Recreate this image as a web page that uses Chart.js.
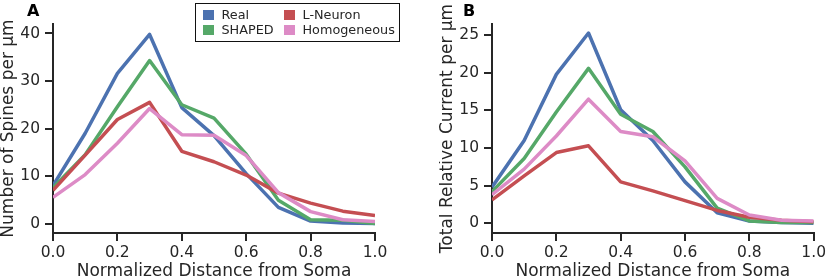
<!DOCTYPE html>
<html>
<head>
<meta charset="utf-8">
<script src="https://cdn.jsdelivr.net/npm/chart.js@4.4.0/dist/chart.umd.min.js"></script>
<style>
  body { margin: 0; background: #fff; width: 829px; height: 279px; overflow: hidden; position: relative; font-family: "DejaVu Sans"; }
  canvas { position: absolute; top: 0; }
  #chartA { left: 0; }
  #chartB { left: 439px; }
  .panel { position: absolute; top: 3px; font-size: 16px; line-height: 16px; font-weight: bold; color: #000; }
  #legendA {
    position: absolute; left: 195px; top: 3px; width: 205px; height: 39px;
    border: 1.5px solid #111; background: #fff; box-sizing: border-box;
    display: grid; grid-template-rows: 15px 15px; grid-auto-flow: column;
    grid-template-columns: 81px auto; padding: 3px 0 0 6.5px;
    font-size: 12.8px; line-height: 15px; color: #262626;
  }
  .item { display: flex; align-items: center; white-space: nowrap; }
  .patch { width: 11px; height: 10px; margin-right: 8px; flex: none; }
</style>
</head>
<body>
<canvas id="chartA" width="439" height="279"></canvas>
<canvas id="chartB" width="390" height="279"></canvas>
<div class="panel" style="left:27px">A</div>
<div class="panel" style="left:463px">B</div>
<div id="legendA"></div>
<script>
// Spines and current density along the dendrite
// Librerias: Chart.js

const distance = [0.0, 0.1, 0.2, 0.3, 0.4, 0.5, 0.6, 0.7, 0.8, 0.9, 1.0];
const xTicks = [0.0, 0.2, 0.4, 0.6, 0.8, 1.0];

// Panel A - Number of spines per um
const spinesReal = [8.0, 19.0, 31.6, 39.8, 24.4, 18.5, 10.5, 3.4, 0.5, 0.1, 0.0];
const spinesShaped = [7.5, 14.5, 24.6, 34.3, 25.0, 22.2, 14.6, 4.9, 0.8, 0.7, 0.0];
const spinesLNeuron = [7.0, 14.4, 21.9, 25.5, 15.2, 13.0, 10.2, 6.4, 4.3, 2.6, 1.7];
const spinesHomog = [5.5, 10.3, 16.9, 24.2, 18.7, 18.6, 14.3, 6.5, 2.5, 0.8, 0.4];
const yTicksA = [0, 10, 20, 30, 40];

// Panel B - Total relative current per um
const currentReal = [4.8, 11.0, 19.8, 25.3, 15.1, 11.0, 5.5, 1.4, 0.3, 0.1, 0.0];
const currentShaped = [4.2, 8.6, 14.8, 20.6, 14.5, 12.2, 7.5, 2.0, 0.3, 0.1, 0.1];
const currentLNeuron = [3.1, 6.3, 9.4, 10.3, 5.5, 4.3, 3.0, 1.7, 0.8, 0.4, 0.2];
const currentHomog = [3.8, 7.2, 11.6, 16.5, 12.2, 11.5, 8.3, 3.3, 1.1, 0.4, 0.3];
const yTicksB = [0, 5, 10, 15, 20, 25];

const seriesNames = ['Real', 'SHAPED', 'L-Neuron', 'Homogeneous'];
const seriesColors = ['#4c72b0', '#55a868', '#c44e52', '#dd8bc6'];

const axisColor = '#262626';
Chart.defaults.font.family = 'DejaVu Sans';
Chart.defaults.color = axisColor;

function toPoints(values){
  return distance.map((x, i) => ({x: x, y: values[i]}));
}

function makeDatasets(listSeries){
  let datasets = [];
  for (let i = 0; i < listSeries.length; i++) {
    datasets.push({
      label: seriesNames[i],
      data: toPoints(listSeries[i]),
      borderColor: seriesColors[i],
      backgroundColor: seriesColors[i],
      borderWidth: 3.5,
      pointRadius: 0,
      tension: 0,
      borderJoinStyle: 'round',
      order: listSeries.length - i   // last series on top, like matplotlib
    });
  }
  return datasets;
}

function makeOptions(yTitle, yMin, yMax, yTicks, rightPad){
  return {
    responsive: false,
    animation: false,
    devicePixelRatio: 1,
    layout: { padding: { left: 0, right: rightPad, top: 24, bottom: 0 } },
    plugins: { legend: { display: false }, tooltip: { enabled: false } },
    scales: {
      x: {
        type: 'linear', min: 0, max: 1,
        afterBuildTicks: (s) => { s.ticks = xTicks.map(v => ({value: v})); },
        afterFit: (s) => { s.height = 46; },
        ticks: { font: { size: 15.5 }, padding: 3, maxRotation: 0, callback: (v) => Number(v).toFixed(1) },
        grid: { drawOnChartArea: false, tickLength: 8, color: axisColor, lineWidth: 2 },
        border: { color: axisColor, width: 2 },
        title: { display: true, text: 'Normalized Distance from Soma', font: { size: 17, lineHeight: 0.82 }, padding: 0 }
      },
      y: {
        type: 'linear', min: yMin, max: yMax,
        afterBuildTicks: (s) => { s.ticks = yTicks.map(v => ({value: v})); },
        afterFit: (s) => { s.width = 53; },
        ticks: { font: { size: 15.5 }, padding: 5, callback: (v) => String(v) },
        grid: { drawOnChartArea: false, tickLength: 8, color: axisColor, lineWidth: 2 },
        border: { color: axisColor, width: 2 },
        title: { display: true, text: yTitle, font: { size: 17, lineHeight: 1.05 }, padding: 0 }
      }
    }
  };
}

let chartA = new Chart(document.getElementById('chartA').getContext('2d'), {
  type: 'line',
  data: { datasets: makeDatasets([spinesReal, spinesShaped, spinesLNeuron, spinesHomog]) },
  options: makeOptions('Number of Spines per \u03bcm', -2, 42, yTicksA, 64)
});

let chartB = new Chart(document.getElementById('chartB').getContext('2d'), {
  type: 'line',
  data: { datasets: makeDatasets([currentReal, currentShaped, currentLNeuron, currentHomog]) },
  options: makeOptions('Total Relative Current per \u03bcm', -1.3, 26.5, yTicksB, 15)
});

//-----LEGEND (two columns, inside panel A)
const legend = document.getElementById('legendA');
chartA.data.datasets.forEach(ds => {
  let item = document.createElement('div');
  item.className = 'item';
  item.innerHTML = '<span class="patch" style="background:' + ds.backgroundColor + '"></span>' + ds.label;
  legend.appendChild(item);
});
</script>
</body>
</html>
